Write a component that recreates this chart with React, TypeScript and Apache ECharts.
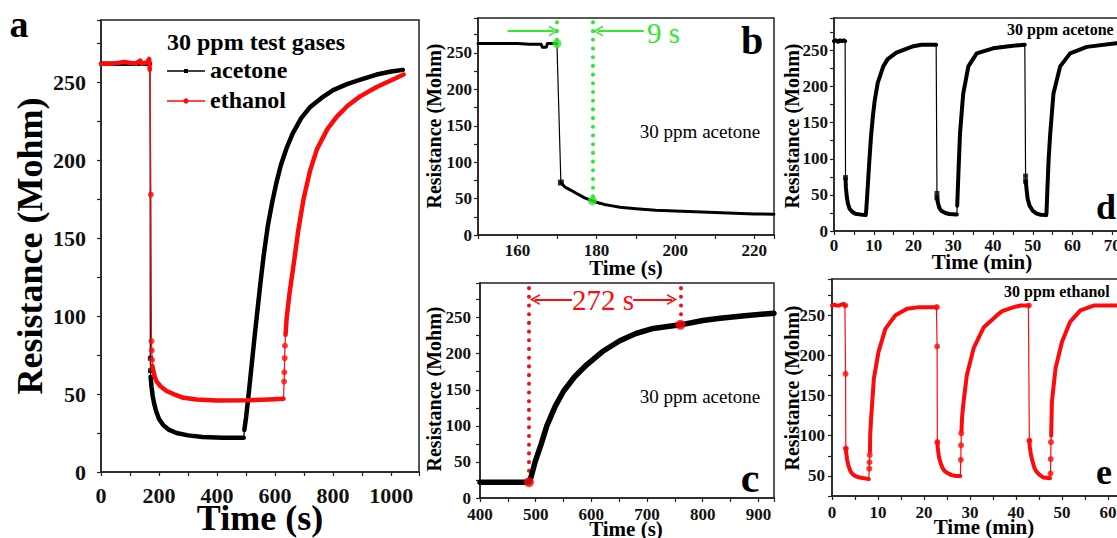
import React, { useEffect, useRef } from 'react';
import * as echarts from 'echarts';

type Pt = [number, number];

// ---------- Panel a: one response/recovery cycle, time (s) vs resistance (Mohm) ----------
const aAcetoneBase: Pt[] = [[0, 262], [40, 262], [80, 262], [120, 262], [150, 262], [169, 262]];
const aAcetoneDrop: Pt[] = [[170, 73], [170.5, 65]];
const aAcetoneDecay: Pt[] = [[171, 61], [174, 55], [178, 49], [183, 44], [190, 39], [200, 34], [215, 30], [235, 27], [260, 25], [300, 23.5], [350, 22.5], [420, 22], [492, 22]];
const aAcetoneRise: Pt[] = [[494, 27], [500, 35], [510, 52], [520, 70], [530, 88], [540, 105], [550, 122], [560, 138], [575, 158], [590, 173], [605, 186], [620, 197], [640, 208], [660, 217], [690, 227], [720, 234], [760, 240], [800, 245], [850, 249], [900, 252], [950, 255], [1000, 257], [1040, 258]];

const aEthanolBase: Pt[] = [[0, 262], [40, 262], [80, 263], [120, 262], [135, 264], [140, 262], [160, 263], [166, 265], [168, 258]];
const aEthanolDrop: Pt[] = [[172, 178], [174, 84], [175, 78], [176, 72]];
const aEthanolDecay: Pt[] = [[177, 68], [185, 61], [192, 58], [205, 55], [226, 52], [250, 50], [284, 47.6], [330, 46.5], [400, 45.8], [500, 46], [580, 46.5], [629, 47]];
const aEthanolJump: Pt[] = [[631, 58], [632, 64], [633, 73], [634, 81]];
const aEthanolRise: Pt[] = [[636, 88], [640, 99], [650, 115], [663, 132], [680, 155], [698, 175], [720, 193], [744, 207], [780, 220], [813, 228], [850, 235], [893, 241], [950, 247], [1008, 252], [1043, 255]];

// ---------- Panel b: response to 30 ppm acetone ----------
const bBase: Pt[] = [[150, 263], [155, 263], [160, 263], [163, 262], [166, 262], [166.3, 258], [167.3, 258], [167.6, 263], [170, 263]];
const bDrop: Pt[] = [[171, 72]];
const bDecay: Pt[] = [[171, 72], [172, 66], [173, 63], [174, 60], [175, 57], [176, 54], [177, 51], [178, 49], [179, 47], [180, 45], [182, 42], [184, 40], [186, 38], [188, 37], [190, 36], [195, 34], [200, 33], [205, 32], [210, 31], [215, 30], [220, 29], [225, 28.5]];
const bResponseStart = 170;
const bResponseEnd = 179;
const bResponseMarks: Pt[] = [[bResponseStart, 263], [bResponseEnd, 47]];

// ---------- Panel c: recovery from 30 ppm acetone ----------
const cBase: Pt[] = [[400, 22], [450, 22], [488, 22]];
const cRise: Pt[] = [[490, 25], [492, 30], [499, 50], [510, 75], [520, 100], [535, 127], [550, 148], [570, 168], [592, 185], [620, 203], [651, 218], [680, 228], [711, 235], [740, 238], [760, 240], [800, 246], [831, 249], [880, 253], [928, 256]];
const cRecoveryStart = 488;
const cRecoveryEnd = 760;
const cRecoveryMarks: Pt[] = [[cRecoveryStart, 22], [cRecoveryEnd, 240]];

// ---------- Panel d: three cycles, 30 ppm acetone, time (min) ----------
const dBase1: Pt[] = [[0, 263], [0.5, 264], [1, 262], [1.5, 264], [2, 263], [2.5, 264], [2.8, 263]];
const dDrop1: Pt[] = [[2.9, 74]];
const dDecay1: Pt[] = [[2.9, 72], [3.0, 60], [3.2, 48], [3.5, 38], [3.9, 31], [4.5, 27], [5.3, 24], [6.5, 23], [8.0, 22]];
const dRise1: Pt[] = [[8.05, 24], [8.3, 45], [8.8, 89], [9.3, 130], [9.8, 160], [10.25, 181], [11, 205], [12.4, 228], [13.5, 238], [15.7, 247], [18, 252], [20, 256], [22, 258], [25.7, 258]];
const dDrop2: Pt[] = [[25.9, 52], [25.9, 46]];
const dDecay2: Pt[] = [[25.95, 46], [26.1, 40], [26.5, 32], [27, 28], [28, 25], [29, 23.5], [30.9, 23]];
const dRise2: Pt[] = [[31.0, 35], [31.3, 80], [31.7, 135], [32.5, 190], [33.8, 228], [35.9, 246], [40, 253], [44, 256], [48.0, 258]];
const dDrop3: Pt[] = [[48.2, 76], [48.2, 69]];
const dDecay3: Pt[] = [[48.25, 69], [48.4, 60], [48.7, 45], [49.2, 35], [50, 28], [51, 24], [52, 22.5], [53.4, 22]];
const dRise3: Pt[] = [[53.45, 24], [53.7, 60], [54.0, 100], [54.4, 135], [55.2, 190], [56.9, 228], [59.4, 246], [63.6, 255], [71, 260], [80, 261]];

// ---------- Panel e: three cycles, 30 ppm ethanol, time (min) ----------
const eBase1: Pt[] = [[0, 262], [0.5, 263], [1, 262], [1.5, 262], [2, 263], [2.5, 264], [2.8, 262]];
const eDrop1: Pt[] = [[2.9, 262], [2.95, 177], [3.0, 84]];
const eDecay1: Pt[] = [[3.0, 84], [3.1, 78], [3.3, 70], [3.6, 62], [4, 56], [4.5, 52], [5.2, 49.5], [6, 48], [7, 47], [8.0, 46]];
const eJump1: Pt[] = [[8.1, 59], [8.15, 67], [8.2, 76]];
const eRise1: Pt[] = [[8.25, 80], [8.3, 100], [8.5, 121], [9.1, 171], [10.1, 204], [11.6, 233], [13.8, 250], [16.3, 258], [19, 260], [22.7, 260]];
const eDrop2: Pt[] = [[22.8, 260], [22.85, 211], [22.9, 92]];
const eDecay2: Pt[] = [[22.9, 92], [23.0, 85], [23.2, 75], [23.5, 68], [24, 60], [24.5, 56], [25, 54], [26, 51], [27, 50], [27.9, 50]];
const eJump2: Pt[] = [[28.0, 70], [28.05, 88], [28.1, 103]];
const eRise2: Pt[] = [[28.15, 106], [28.3, 125], [28.6, 142], [29.3, 175], [30.8, 209], [33, 235], [35.9, 250], [37, 255], [39.5, 260], [41, 262], [42.7, 262]];
const eDrop3: Pt[] = [[42.8, 262], [42.9, 94]];
const eDecay3: Pt[] = [[42.9, 94], [43.0, 86], [43.2, 78], [43.5, 70], [44, 60], [44.5, 55], [45, 52], [46, 48], [47.4, 47]];
const eJump3: Pt[] = [[47.5, 53], [47.55, 71], [47.6, 92]];
const eRise3: Pt[] = [[47.65, 100], [47.8, 142], [48.6, 184], [50, 217], [51.8, 242], [54, 256], [56.9, 262], [60, 262], [65, 262], [70, 261]];

const BLACK = '#000000';
const RED = '#ff0a0a';
const GREEN = '#30e830';
const AXIS = '#222222';
const FONT = '"Liberation Serif", "Times New Roman", Times, serif';

const GAP: any = ['-', '-'];
function withGaps(parts: Pt[][]) {
  const out: any[] = [];
  parts.forEach((p, i) => {
    if (i) out.push(GAP);
    out.push(...p);
  });
  return out;
}

// A measured trace: a thin connecting line through every reading, a thick band
// over the densely sampled stretches, and single markers on the fast transitions.
function trace(grid: number, color: string, order: Pt[][], bands: Pt[][], dots: Pt[],
  bandWidth: number, dotSymbol: string, dotSize: number, z: number) {
  const base = { xAxisIndex: grid, yAxisIndex: grid, silent: true, animation: false };
  return [
    { ...base, type: 'line', data: order.flat(), symbol: 'none', lineStyle: { color, width: 1.2 }, z },
    { ...base, type: 'line', data: withGaps(bands), symbol: 'none', connectNulls: false,
      lineStyle: { color, width: bandWidth, cap: 'round', join: 'round' }, z: z + 1 },
    { ...base, type: 'scatter', data: dots, symbol: dotSymbol, symbolSize: dotSize, itemStyle: { color }, z: z + 2 },
  ];
}

function valueAxis(grid: number, min: number, max: number, step: number, labelStep: number,
  fontSize: number, margin: number) {
  return {
    type: 'value', gridIndex: grid, min, max, interval: step,
    axisLine: { show: true, onZero: false, lineStyle: { color: AXIS, width: 1.5 } },
    axisTick: { show: true, inside: false, length: 4, lineStyle: { color: AXIS, width: 1.2 } },
    axisLabel: {
      show: true, margin, color: '#111', fontFamily: FONT, fontWeight: 'bold', fontSize,
      formatter: (v: number) => (Math.abs(v % labelStep) < 1e-6 ? String(v) : ''),
    },
    splitLine: { show: false },
    minorTick: { show: false },
  };
}

const ARROW = 'path://M0,10 L6,0 L12,10 L10.2,10 L6,3.2 L1.8,10 Z';

function dottedLine(x: number, yTop: number, yBottom: number, color: string) {
  return [
    { coord: [x, yTop], symbol: 'none', lineStyle: { color, width: 4, type: [0.1, 8.6], cap: 'round' } },
    { coord: [x, yBottom], symbol: 'none' },
  ];
}
function arrowLine(x1: number, x2: number, y: number, color: string) {
  return [
    { coord: [x1, y], symbol: 'none', lineStyle: { color, width: 2, type: 'solid' } },
    { coord: [x2, y], symbol: ARROW, symbolSize: [11, 10] },
  ];
}

function text(x: number, y: number, str: string, font: string, fill = '#000', align = 'center', rotation = 0) {
  return {
    type: 'text', x, y, rotation, silent: true,
    style: { text: str, font, fill, textAlign: align, textVerticalAlign: 'middle', align, verticalAlign: 'middle' },
  };
}

const grids = [
  { left: 101, top: 20, width: 318, height: 452 },
  { left: 478, top: 18, width: 296, height: 217 },
  { left: 480, top: 283, width: 294, height: 215 },
  { left: 834, top: 18, width: 318, height: 213 },
  { left: 832, top: 279, width: 322, height: 217 },
].map((g) => ({
  ...g, show: true, borderColor: AXIS, borderWidth: 1.5, backgroundColor: 'transparent',
  containLabel: false, outerBoundsMode: 'none',
}));

const xAxes = [
  valueAxis(0, 0, 1096, 100, 200, 22, 12),
  valueAxis(1, 150, 225, 10, 20, 17, 7),
  valueAxis(2, 400, 928, 50, 100, 17, 8),
  valueAxis(3, 0, 80, 5, 10, 17, 6),
  valueAxis(4, 0, 70, 5, 10, 17, 8),
];
const yAxes = [
  valueAxis(0, 0, 290, 25, 50, 22, 15),
  valueAxis(1, 0, 298, 25, 50, 17, 6),
  valueAxis(2, 0, 298, 25, 50, 17, 9),
  valueAxis(3, 0, 295, 25, 50, 17, 6),
  valueAxis(4, 25, 295, 25, 50, 17, 7),
];

const series: any[] = [
  ...trace(0, BLACK,
    [aAcetoneBase, aAcetoneDrop, aAcetoneDecay, aAcetoneRise],
    [aAcetoneBase, aAcetoneDecay, aAcetoneRise], aAcetoneDrop, 4.5, 'rect', 5, 10),
  ...trace(0, RED,
    [aEthanolBase, aEthanolDrop, aEthanolDecay, aEthanolJump, aEthanolRise],
    [aEthanolBase, aEthanolDecay, aEthanolRise], [...aEthanolDrop, ...aEthanolJump], 4.5, 'circle', 6, 20),

  ...trace(1, BLACK, [bBase, bDrop, bDecay], [bBase, bDecay], bDrop, 3, 'rect', 6, 10),
  {
    type: 'scatter', xAxisIndex: 1, yAxisIndex: 1, data: bResponseMarks, symbol: 'circle', symbolSize: 9,
    itemStyle: { color: GREEN }, z: 30, silent: true,
    markLine: {
      silent: true, animation: false, label: { show: false }, symbol: 'none',
      data: [
        dottedLine(bResponseStart, 292, 263, GREEN),
        dottedLine(bResponseEnd, 292, 47, GREEN),
        arrowLine(157.5, 169.2, 280, GREEN),
        arrowLine(192, 180.4, 280, GREEN),
      ],
    },
  },

  ...trace(2, BLACK, [cBase, cRise], [[...cBase, ...cRise]], [], 5.5, 'rect', 5, 10),
  {
    type: 'scatter', xAxisIndex: 2, yAxisIndex: 2, data: cRecoveryMarks, symbol: 'circle', symbolSize: 10,
    itemStyle: { color: RED }, z: 30, silent: true,
    markLine: {
      silent: true, animation: false, label: { show: false }, symbol: 'none',
      data: [
        dottedLine(cRecoveryStart, 291, 22, RED),
        dottedLine(cRecoveryEnd, 291, 240, RED),
        arrowLine(565, 498.5, 275, RED),
        arrowLine(675, 745, 275, RED),
      ],
    },
  },

  ...trace(3, BLACK,
    [dBase1, dDrop1, dDecay1, dRise1, dDrop2, dDecay2, dRise2, dDrop3, dDecay3, dRise3],
    [dBase1, dDecay1, dRise1, dDecay2, dRise2, dDecay3, dRise3],
    [...dDrop1, ...dDrop2, ...dDrop3], 4, 'rect', 5, 10),

  ...trace(4, RED,
    [eBase1, eDrop1, eDecay1, eJump1, eRise1, eDrop2, eDecay2, eJump2, eRise2, eDrop3, eDecay3, eJump3, eRise3],
    [eBase1, eDecay1, eRise1, eDecay2, eRise2, eDecay3, eRise3],
    [...eDrop1, ...eJump1, ...eDrop2, ...eJump2, ...eDrop3, ...eJump3], 4, 'circle', 6, 10),
];

const B = (px: number) => `bold ${px}px ${FONT}`;
const R = (px: number) => `${px}px ${FONT}`;
const UP = Math.PI / 2;

const graphic: any[] = [
  // panel a
  text(19, 24, 'a', B(38)),
  text(30, 246, 'Resistance (Mohm)', B(36), '#000', 'center', UP),
  text(260, 518, 'Time (s)', B(36)),
  text(167, 42, '30 ppm test gases', B(24), '#000', 'left'),
  { type: 'line', silent: true, shape: { x1: 167, y1: 71, x2: 205, y2: 71 }, style: { stroke: BLACK, lineWidth: 1.5 } },
  { type: 'rect', silent: true, shape: { x: 184, y: 69, width: 4, height: 4 }, style: { fill: BLACK } },
  text(210, 70, 'acetone', B(24), '#000', 'left'),
  { type: 'line', silent: true, shape: { x1: 167, y1: 101, x2: 205, y2: 101 }, style: { stroke: RED, lineWidth: 1.5 } },
  { type: 'circle', silent: true, shape: { cx: 186, cy: 101, r: 2.6 }, style: { fill: RED } },
  text(210, 100, 'ethanol', B(24), '#000', 'left'),

  // panel b
  text(752, 40, 'b', B(40)),
  text(434, 126, 'Resistance (Mohm)', B(20), '#000', 'center', UP),
  text(626, 268, 'Time (s)', B(21)),
  text(700, 131, '30 ppm acetone', R(19)),
  text(647, 33, `${bResponseEnd - bResponseStart} s`, R(29), GREEN, 'left'),

  // panel c
  text(750, 478, 'c', B(42)),
  text(434, 389, 'Resistance (Mohm)', B(20), '#000', 'center', UP),
  text(626, 529, 'Time (s)', B(21)),
  text(700, 396, '30 ppm acetone', R(19)),
  text(603, 300, `${cRecoveryEnd - cRecoveryStart} s`, R(29), RED),

  // panel d
  text(1096, 207, 'd', B(36), '#000', 'left'),
  text(792, 126, 'Resistance (Mohm)', B(20), '#000', 'center', UP),
  text(982, 262, 'Time (min)', B(21)),
  text(1007, 29, '30 ppm acetone', B(16), '#000', 'left'),

  // panel e
  text(1096, 472, 'e', B(36), '#000', 'left'),
  text(792, 388, 'Resistance (Mohm)', B(20), '#000', 'center', UP),
  text(984, 527, 'Time (min)', B(21)),
  text(1004, 291, '30 ppm ethanol', B(16), '#000', 'left'),
];

const option: any = {
  animation: false,
  backgroundColor: '#ffffff',
  grid: grids,
  xAxis: xAxes,
  yAxis: yAxes,
  series,
  graphic,
};

export default function App() {
  const ref = useRef<HTMLDivElement>(null);
  useEffect(() => {
    const chart = echarts.init(ref.current!, null, { renderer: 'svg' });
    chart.setOption(option);
    return () => chart.dispose();
  }, []);
  return (
    <div
      ref={ref}
      style={{ position: 'fixed', left: 0, top: 0, width: 1117, height: 538, background: '#fff' }}
    />
  );
}
